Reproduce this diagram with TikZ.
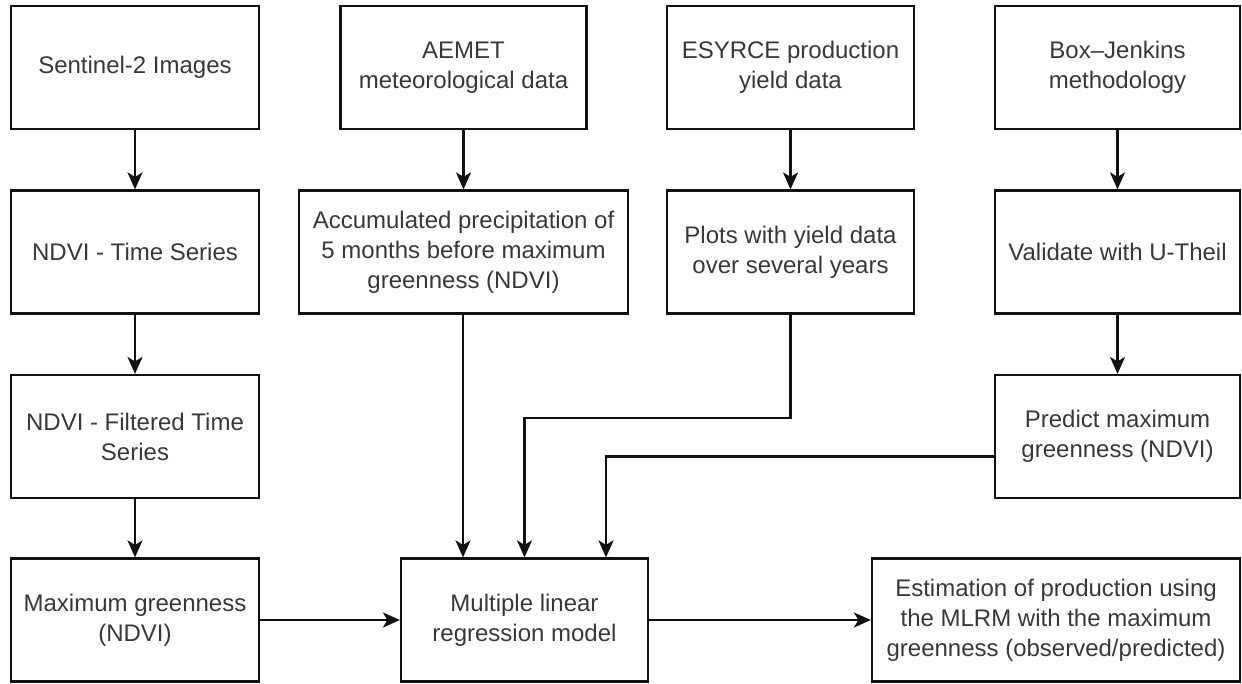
\documentclass[tikz,border=0pt]{standalone}
\usepackage{fontspec}
\setmainfont{Liberation Sans}
\usetikzlibrary{arrows.meta,calc}
\definecolor{txt}{HTML}{383838}
\definecolor{ln}{HTML}{111111}
\begin{document}
\begin{tikzpicture}[x=1pt,y=-1pt,
  box/.style={draw=ln, line width=2.2pt, text=txt, align=center,
    minimum height=123pt, inner sep=2pt,
    font=\fontsize{24}{30}\selectfont},
  arr/.style={draw=ln, line width=2.2pt,
    -{Stealth[length=17pt,width=15pt,inset=4.5pt]}}]
\useasboundingbox (0,0) rectangle (1242,683);
% column 1
\node[box, minimum width=248pt] (s1) at (135,67.5) {Sentinel-2 Images};
\node[box, minimum width=248pt] (s2) at (135,252) {NDVI - Time Series};
\node[box, minimum width=248pt] (s3) at (135,436.5) {NDVI - Filtered Time\\Series};
\node[box, minimum width=248pt] (s4) at (135,620) {Maximum greenness\\(NDVI)};
% column 2
\node[box, minimum width=246pt] (a1) at (463.5,67.5) {AEMET\\meteorological data};
\node[box, minimum width=329pt] (a2) at (463.5,252) {Accumulated precipitation of\\5 months before maximum\\greenness (NDVI)};
% column 3
\node[box, minimum width=247pt] (e1) at (790.5,67.5) {ESYRCE production\\yield data};
\node[box, minimum width=247pt] (e2) at (790.5,252) {Plots with yield data\\over several years};
% column 4
\node[box, minimum width=245pt] (b1) at (1117.5,67.5) {Box–Jenkins\\methodology};
\node[box, minimum width=245pt] (b2) at (1117.5,252) {Validate with U-Theil};
\node[box, minimum width=245pt] (b3) at (1117.5,436.5) {Predict maximum\\greenness (NDVI)};
% bottom row
\node[box, minimum width=247pt] (m) at (524.5,620) {Multiple linear\\regression model};
\node[box, minimum width=368pt] (est) at (1056,620) {Estimation of production using\\the MLRM with the maximum\\greenness (observed/predicted)};
% connectors
\draw[arr] (s1) -- (s2);
\draw[arr] (s2) -- (s3);
\draw[arr] (s3) -- (s4);
\draw[arr] (a1) -- (a2);
\draw[arr] (e1) -- (e2);
\draw[arr] (b1) -- (b2);
\draw[arr] (b2) -- (b3);
\draw[arr] ($(a2.south)+(-0.5,0)$) -- ($(a2.south |- m.north)+(-0.5,0)$);
\draw[arr] (e2.south) -- ++(0,103) -| (m.north);
\draw[arr] ($(b3.west)+(0,20)$) -| ($(m.north)+(81.5,0)$);
\draw[arr] (s4) -- (m);
\draw[arr] (m) -- (est);
\end{tikzpicture}
\end{document}
